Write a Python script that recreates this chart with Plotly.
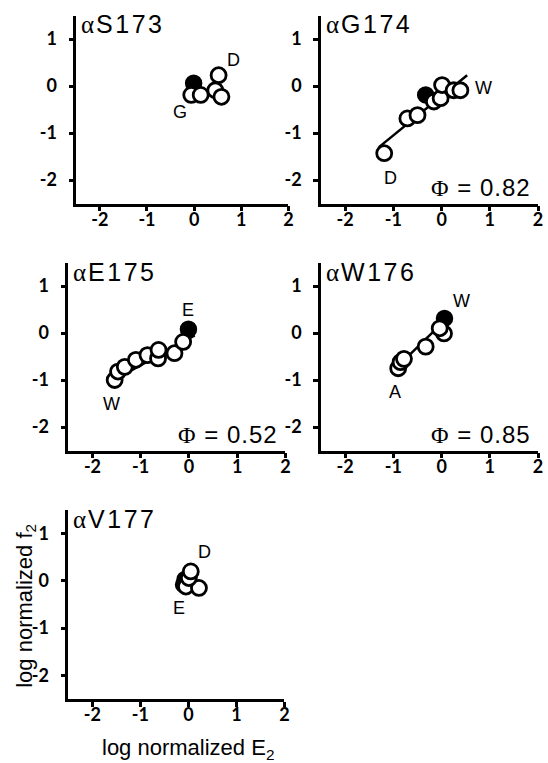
import plotly.graph_objects as go

W, H = 548, 763

# ---- data (log normalized E2, log normalized f2) ----
titles = ["S173", "G174", "E175", "W176", "V177"]

s173_open_x = [-0.06, 0.14, 0.45, 0.52, 0.58]
s173_open_y = [-0.19, -0.19, -0.09, 0.23, -0.23]
s173_wt_x = [-0.01]
s173_wt_y = [0.06]

g174_open_x = [-1.19, -0.71, -0.50, -0.16, -0.02, 0.01, 0.25, 0.39]
g174_open_y = [-1.43, -0.69, -0.62, -0.33, -0.26, 0.02, -0.09, -0.09]
g174_wt_x = [-0.33]
g174_wt_y = [-0.19]
g174_fit_x = [-1.30, 0.53]
g174_fit_y = [-1.30, 0.23]

e175_open_x = [-1.54, -1.47, -1.33, -1.10, -0.86, -0.64, -0.63, -0.30, -0.12]
e175_open_y = [-1.00, -0.82, -0.72, -0.57, -0.47, -0.54, -0.36, -0.43, -0.19]
e175_wt_x = [-0.01]
e175_wt_y = [0.08]
e175_fit_x = [-1.55, 0.12]
e175_fit_y = [-1.00, -0.05]

w176_open_x = [-0.90, -0.85, -0.78, -0.33, 0.05, -0.04]
w176_open_y = [-0.75, -0.62, -0.55, -0.29, -0.01, 0.10]
w176_wt_x = [0.06]
w176_wt_y = [0.31]
w176_fit_x = [-0.90, 0.08]
w176_fit_y = [-0.70, 0.28]

v177_open_x = [-0.05, 0.22, 0.01, 0.05]
v177_open_y = [-0.12, -0.15, 0.06, 0.20]
v177_wt_x = [-0.10, -0.07]
v177_wt_y = [-0.08, 0.03]

phi_values = {"G174": "0.82", "E175": "0.52", "W176": "0.85"}

point_labels = {
    "S173": [("G", -0.30, -0.55), ("D", 0.83, 0.55)],
    "G174": [("D", -1.05, -1.96), ("W", 0.87, -0.05)],
    "E175": [("W", -1.61, -1.50), ("E", -0.01, 0.49)],
    "W176": [("A", -0.96, -1.25), ("W", 0.41, 0.69)],
    "V177": [("E", -0.20, -0.58), ("D", 0.34, 0.62)],
}

x_ticks = [-2, -1, 0, 1, 2]
y_ticks = [-2, -1, 0, 1]
x_range = [-2.5, 2]
y_range = [-2.5, 1.5]

# ---- layout (pixel boxes of panels) ----
boxes = {
    "S173": (77, 291, 15.5, 203.5),
    "G174": (324, 543, 15.5, 203.5),
    "E175": (69, 288, 262.5, 450.5),
    "W176": (324, 543, 262.5, 450.5),
    "V177": (69, 287, 510, 699),
}

series = {
    "S173": (s173_open_x, s173_open_y, s173_wt_x, s173_wt_y, None, None),
    "G174": (g174_open_x, g174_open_y, g174_wt_x, g174_wt_y, g174_fit_x, g174_fit_y),
    "E175": (e175_open_x, e175_open_y, e175_wt_x, e175_wt_y, e175_fit_x, e175_fit_y),
    "W176": (w176_open_x, w176_open_y, w176_wt_x, w176_wt_y, w176_fit_x, w176_fit_y),
    "V177": (v177_open_x, v177_open_y, v177_wt_x, v177_wt_y, None, None),
}

fig = go.Figure()
layout = dict(
    width=W, height=H, margin=dict(l=0, r=0, t=0, b=0),
    paper_bgcolor="white", plot_bgcolor="white", showlegend=False,
)
annotations = []
tickfont = dict(family="Lato", size=18, color="black")
sans = "Liberation Sans"
serif = "Liberation Serif"

for i, name in enumerate(titles):
    n = i + 1
    xa = "x" if n == 1 else f"x{n}"
    ya = "y" if n == 1 else f"y{n}"
    x0, x1, ytop, ybot = boxes[name]
    axis_common = dict(
        showline=True, linecolor="black", linewidth=2.5,
        ticks="outside", ticklen=5, tickwidth=2.5, tickcolor="black",
        showgrid=False, zeroline=False, tickfont=tickfont, fixedrange=True,
    )
    layout["xaxis" if n == 1 else f"xaxis{n}"] = dict(
        axis_common, domain=[x0 / W, x1 / W], range=x_range,
        tickvals=x_ticks, ticktext=[f"<b>{t}</b>" for t in x_ticks],
        anchor=ya, ticklabelstandoff=-7,
    )
    layout["yaxis" if n == 1 else f"yaxis{n}"] = dict(
        axis_common, domain=[1 - ybot / H, 1 - ytop / H], range=y_range,
        tickvals=y_ticks, ticktext=[f"<b>{t}</b>" for t in y_ticks],
        anchor=xa, ticklabelstandoff=8,
    )
    ox, oy, wx, wy, fx, fy = series[name]
    if fx is not None:
        fig.add_trace(go.Scatter(x=fx, y=fy, mode="lines", xaxis=xa, yaxis=ya,
                                 line=dict(color="black", width=2.5), cliponaxis=False))
    fig.add_trace(go.Scatter(x=wx, y=wy, mode="markers", xaxis=xa, yaxis=ya,
                             marker=dict(size=15, color="black",
                                         line=dict(color="black", width=2.5)),
                             cliponaxis=False))
    fig.add_trace(go.Scatter(x=ox, y=oy, mode="markers", xaxis=xa, yaxis=ya,
                             marker=dict(size=15, color="white",
                                         line=dict(color="black", width=2.8)),
                             cliponaxis=False))
    # panel title
    annotations.append(dict(
        xref="paper", yref="paper", x=(x0 + 3) / W, y=1 - (ytop - 7) / H,
        xanchor="left", yanchor="top", showarrow=False,
        text=(f"<span style='font-family:{serif};letter-spacing:2px'>α</span>"
              f"<span style='letter-spacing:2.5px'>{name}</span>"),
        font=dict(family=sans, size=25, color="black"),
    ))
    # point labels
    for lab, lx, ly in point_labels[name]:
        annotations.append(dict(
            xref=xa, yref=ya, x=lx, y=ly, showarrow=False, text=lab,
            xanchor="center", yanchor="middle",
            font=dict(family=sans, size=18, color="black"),
        ))
    if name in phi_values:
        annotations.append(dict(
            xref="paper", yref="paper", x=(x1 - 5) / W, y=1 - (ybot - 16) / H,
            xanchor="right", yanchor="middle", showarrow=False,
            text=(f"<span style='font-family:{serif};letter-spacing:1px'>Φ</span>"
                  f"<span style='letter-spacing:1px'> = {phi_values[name]}</span>"),
            font=dict(family=sans, size=24, color="black"),
        ))

# axis titles
annotations.append(dict(
    xref="paper", yref="paper", x=26 / W, y=1 - 606 / H, showarrow=False,
    xanchor="center", yanchor="middle",
    textangle=-90, text="log normalized f<sub>2</sub>",
    font=dict(family=sans, size=22, color="black"),
))
annotations.append(dict(
    xref="paper", yref="paper", x=190 / W, y=1 - 749 / H, showarrow=False,
    xanchor="center", yanchor="middle",
    text="log normalized E<sub>2</sub>",
    font=dict(family=sans, size=22, color="black"),
))

layout["annotations"] = annotations
fig.update_layout(**layout)
fig.write_html(
    "out.html",
    config={"displayModeBar": False},
    post_script="document.body.style.margin='0';document.documentElement.style.overflow='hidden';",
)
